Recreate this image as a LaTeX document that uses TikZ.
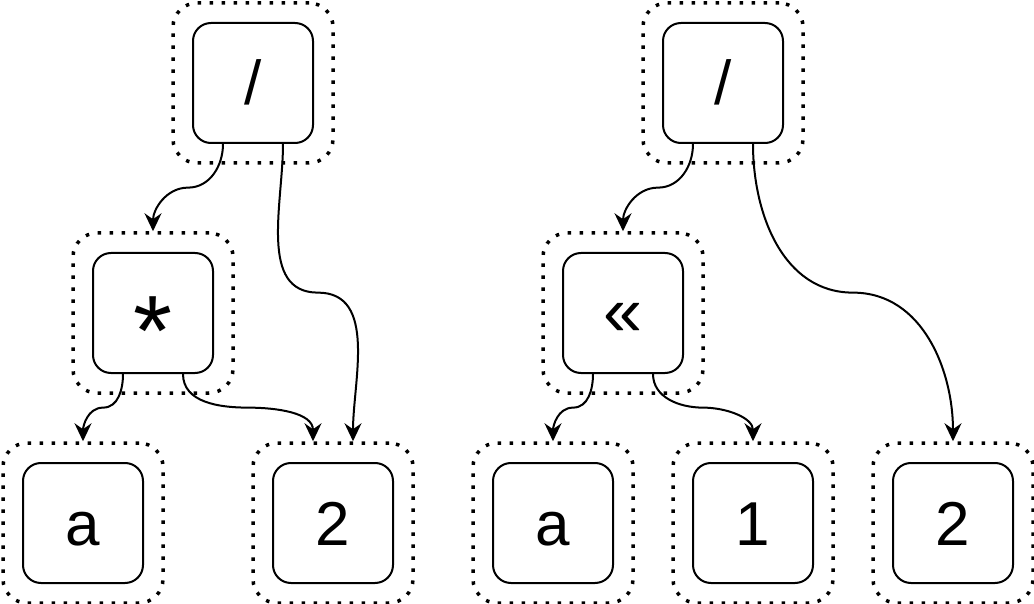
\documentclass[tikz,border=0pt]{standalone}
\usepackage{fontspec}
\setmainfont{Liberation Sans}
\usetikzlibrary{arrows.meta,calc}

\tikzset{
  op/.style={draw, line width=2pt, rounded corners=18pt, minimum size=120pt,
    inner sep=0pt, text height=44pt, text depth=0pt, font=\fontsize{62}{74}\selectfont},
  frame/.style={draw, line width=3.5pt, dash pattern=on 3.5pt off 8.5pt,
    rounded corners=24pt, minimum size=160pt, inner sep=0pt},
  edge/.style={line width=2pt, -{Stealth[length=18pt,width=17pt,inset=6pt]}}
}

\begin{document}
\begin{tikzpicture}[x=1pt,y=-1pt]
   \useasboundingbox (0,0) rectangle (1034,604);

   % left tree
   \node[frame] (ldivo) at (253,83) {};
   \node[op] (ldiv) at (253,83) {/};
   \node[frame] (lmulo) at (153,313) {};
   \node[op] (lmul) at (153,313) {\raisebox{-30pt}{\fontsize{100}{110}\selectfont *}};
   \node[frame] (lao) at (83,523) {};
   \node[op] (la) at (83,523) {a};
   \node[frame] (ltwoo) at (333,523) {};
   \node[op] (ltwo) at (333,523) {2};

   \draw[edge] ([xshift=-30]ldiv.south) coordinate (s1)
      to[out=-90,in=0] ($(s1)!.5!(lmulo.north)$) to[out=180,in=90] (lmulo.north);
   \draw[edge] ([xshift=30]ldiv.south) coordinate (s2)
      to[out=-90,in=180] ($(s2)!.5!([xshift=20]ltwoo.north)$) to[out=0,in=90] ([xshift=20]ltwoo.north);
   \draw[edge] ([xshift=-30]lmul.south) coordinate (s3)
      to[out=-90,in=0] ($(s3)!.5!(lao.north)$) to[out=180,in=90] (lao.north);
   \draw[edge] ([xshift=30]lmul.south) coordinate (s4)
      to[out=-90,in=180] ($(s4)!.5!([xshift=-20]ltwoo.north)$) to[out=0,in=90] ([xshift=-20]ltwoo.north);

   % right tree
   \node[frame] (rdivo) at (723,83) {};
   \node[op] (rdiv) at (723,83) {/};
   \node[frame] (rshlo) at (623,313) {};
   \node[op] (rshl) at (623,313) {\fontsize{70}{80}\selectfont «};
   \node[frame] (rao) at (553,523) {};
   \node[op] (ra) at (553,523) {a};
   \node[frame] (roneo) at (753,523) {};
   \node[op] (rone) at (753,523) {1};
   \node[frame] (rtwoo) at (953,523) {};
   \node[op] (rtwo) at (953,523) {2};

   \draw[edge] ([xshift=-30]rdiv.south) coordinate (t1)
      to[out=-90,in=0] ($(t1)!.5!(rshlo.north)$) to[out=180,in=90] (rshlo.north);
   \draw[edge] ([xshift=30]rdiv.south) coordinate (t2)
      to[out=-90,in=180] ($(t2)!.5!(rtwoo.north)$) to[out=0,in=90] (rtwoo.north);
   \draw[edge] ([xshift=-30]rshl.south) coordinate (t3)
      to[out=-90,in=0] ($(t3)!.5!(rao.north)$) to[out=180,in=90] (rao.north);
   \draw[edge] ([xshift=30]rshl.south) coordinate (t4)
      to[out=-90,in=180] ($(t4)!.5!(roneo.north)$) to[out=0,in=90] (roneo.north);
\end{tikzpicture}
\end{document}
